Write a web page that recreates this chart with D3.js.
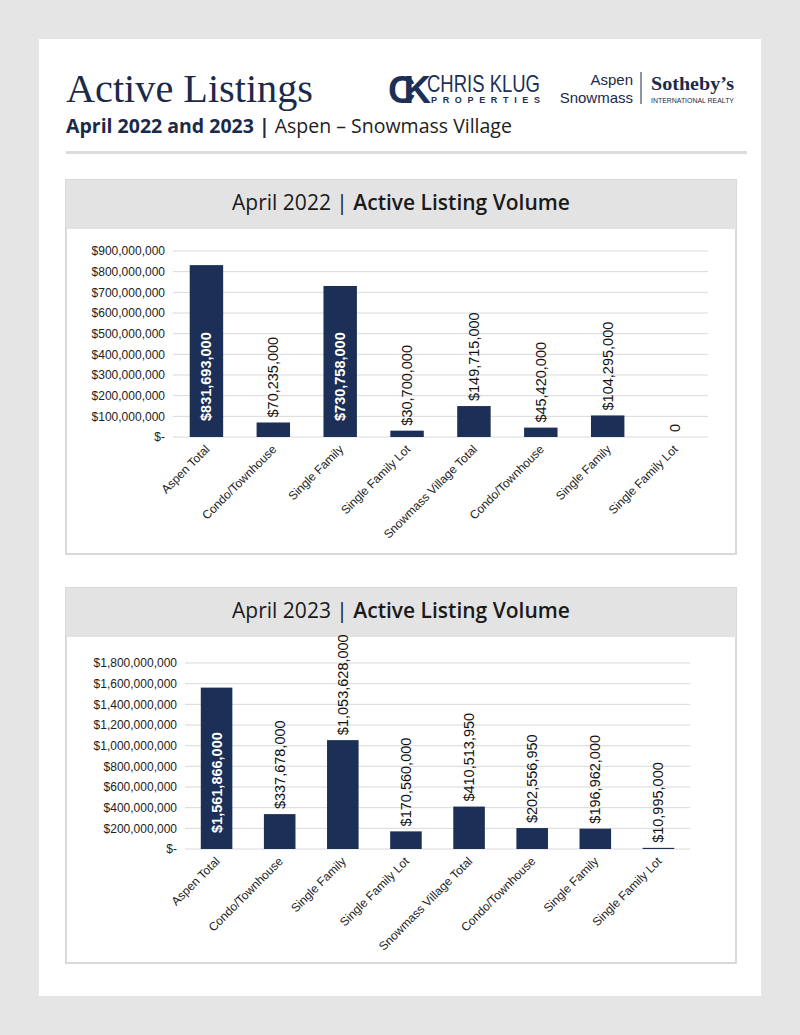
<!DOCTYPE html>
<html><head><meta charset="utf-8">
<script src="https://cdn.jsdelivr.net/npm/d3@7"></script>
<style>
body{margin:0;background:#e5e5e5;}
svg{display:block;}
</style></head>
<body>
<svg id="c" width="800" height="1035"></svg>
<script>
const categories = ["Aspen Total","Condo/Townhouse","Single Family","Single Family Lot","Snowmass Village Total","Condo/Townhouse","Single Family","Single Family Lot"];
const values2022 = [831693000, 70235000, 730758000, 30700000, 149715000, 45420000, 104295000, 0];
const values2023 = [1561866000, 337678000, 1053628000, 170560000, 410513950, 202556950, 196962000, 10995000];
const ticks2022 = [0,100e6,200e6,300e6,400e6,500e6,600e6,700e6,800e6,900e6];
const ticks2023 = [0,200e6,400e6,600e6,800e6,1000e6,1200e6,1400e6,1600e6,1800e6];

const NAVY = "#1c2f57";
const svg = d3.select("#c");
svg.append("rect").attr("width",800).attr("height",1035).attr("fill","#e5e5e5");
svg.append("rect").attr("x",39).attr("y",39).attr("width",722).attr("height",957).attr("fill","#fff");

// Header
svg.append("text").attr("x",66).attr("y",102).attr("font-family","Liberation Serif, serif")
  .attr("font-size",41).attr("fill","#1c2a4a").attr("textLength",247).attr("lengthAdjust","spacingAndGlyphs").text("Active Listings");
const sub = svg.append("text").attr("x",66).attr("y",133).attr("font-family","Open Sans, sans-serif")
  .attr("font-size",19.5).attr("fill","#1c2a4a");
sub.append("tspan").attr("font-weight","bold").text("April 2022 and 2023 | ");
sub.append("tspan").attr("fill","#222").text("Aspen – Snowmass Village");
svg.append("rect").attr("x",66).attr("y",151).attr("width",681).attr("height",3).attr("fill","#dcdcdc");

// Logos
svg.append("text").attr("x",388).attr("y",103).attr("font-family","Liberation Sans, sans-serif").attr("font-weight","bold")
  .attr("font-size",38).attr("fill","#1c2f57").attr("letter-spacing",-12).text("CK");
svg.append("text").attr("x",427).attr("y",92).attr("font-family","Liberation Sans Narrow, Liberation Sans, sans-serif")
  .attr("font-size",24).attr("fill","#1c2f57").attr("textLength",113).attr("lengthAdjust","spacingAndGlyphs").text("CHRIS KLUG");
svg.append("text").attr("x",431).attr("y",103).attr("font-family","Liberation Sans, sans-serif").attr("font-weight","bold")
  .attr("font-size",9).attr("fill","#1c2f57").attr("textLength",109).attr("lengthAdjust","spacing").text("PROPERTIES");
svg.append("text").attr("x",633).attr("y",85).attr("text-anchor","end").attr("font-family","Liberation Sans, sans-serif")
  .attr("font-size",15).attr("fill","#1c2a4a").text("Aspen");
svg.append("text").attr("x",633).attr("y",103).attr("text-anchor","end").attr("font-family","Liberation Sans, sans-serif")
  .attr("font-size",15).attr("fill","#1c2a4a").text("Snowmass");
svg.append("line").attr("x1",641).attr("x2",641).attr("y1",72).attr("y2",104).attr("stroke","#1c2a4a").attr("stroke-width",1);
svg.append("text").attr("x",651).attr("y",90).attr("font-family","Liberation Serif, serif").attr("font-weight","bold")
  .attr("font-size",19).attr("fill","#1c2a4a").attr("textLength",83).attr("lengthAdjust","spacingAndGlyphs").text("Sotheby’s");
svg.append("text").attr("x",651).attr("y",103).attr("font-family","Liberation Sans, sans-serif")
  .attr("font-size",6.5).attr("fill","#1c2a4a").attr("textLength",83).attr("lengthAdjust","spacingAndGlyphs").text("INTERNATIONAL REALTY");

function panel(cfg){
  const g = svg.append("g");
  g.append("rect").attr("x",cfg.px).attr("y",cfg.py).attr("width",cfg.pw).attr("height",cfg.ph)
    .attr("fill","#fff").attr("stroke","#d9d9d9").attr("stroke-width",2);
  g.append("rect").attr("x",cfg.px).attr("y",cfg.py).attr("width",cfg.pw).attr("height",49).attr("fill","#e3e3e3");
  const t = g.append("text").attr("x",cfg.px+cfg.pw/2).attr("y",cfg.py+30).attr("text-anchor","middle")
    .attr("font-family","Open Sans, sans-serif").attr("font-size",21).attr("fill","#1a1a1a");
  t.append("tspan").text(cfg.year+" | ");
  t.append("tspan").attr("font-weight","600").text("Active Listing Volume");

  const x = d3.scaleBand().domain(d3.range(categories.length)).range([cfg.x0,cfg.x1]).paddingInner(0.5).paddingOuter(0.25);
  const y = d3.scaleLinear().domain([0,cfg.max]).range([cfg.y0,cfg.yTop]);

  // grid
  g.append("g").selectAll("line").data(cfg.ticks).join("line")
    .attr("x1",cfg.x0).attr("x2",cfg.x1).attr("y1",d=>y(d)).attr("y2",d=>y(d))
    .attr("stroke","#d9d9d9").attr("stroke-width",1);
  const ax = g.append("g").attr("transform",`translate(${cfg.x0-8},0)`)
    .call(d3.axisLeft(y).tickValues(cfg.ticks).tickSize(0).tickPadding(0)
      .tickFormat(d=> d===0 ? "$-" : d3.format("$,")(d)));
  ax.select(".domain").remove();
  ax.selectAll("text").attr("font-family","Liberation Sans, sans-serif").attr("font-size",12).attr("fill","#222");

  g.append("g").selectAll("rect").data(cfg.values).join("rect")
    .attr("x",(d,i)=>x(i)).attr("width",x.bandwidth())
    .attr("y",d=>y(d)).attr("height",d=>cfg.y0-y(d)).attr("fill",NAVY);

  // data labels
  g.append("g").selectAll("text").data(cfg.values).join("text")
    .attr("transform",(d,i)=>{
      const cx = x(i)+x.bandwidth()/2+5;
      const inside = d/cfg.max > 0.7;
      const yy = inside ? cfg.y0-16 : y(d)-5;
      return `translate(${cx},${yy}) rotate(-90)`;
    })
    .attr("font-family","Liberation Sans, sans-serif").attr("font-size",14.5)
    .attr("font-weight",d=> d/cfg.max>0.7 ? "bold":"normal")
    .attr("fill",d=> d/cfg.max>0.7 ? "#fff":"#111")
    .text(d=> d===0 ? "0" : d3.format("$,")(d));

  // x labels
  g.append("g").selectAll("text").data(categories).join("text")
    .attr("transform",(d,i)=>`translate(${x(i)+x.bandwidth()/2+4},${cfg.y0+13}) rotate(-45)`)
    .attr("text-anchor","end").attr("font-family","Liberation Sans, sans-serif").attr("font-size",12).attr("fill","#222")
    .text(d=>d);
}

panel({year:"April 2022", px:66, py:180, pw:670, ph:374, x0:173, x1:708, y0:437, yTop:251, max:900e6, ticks:ticks2022, values:values2022});
panel({year:"April 2023", px:66, py:588, pw:670, ph:375, x0:185, x1:690, y0:849, yTop:663, max:1800e6, ticks:ticks2023, values:values2023});
</script>
</body></html>
